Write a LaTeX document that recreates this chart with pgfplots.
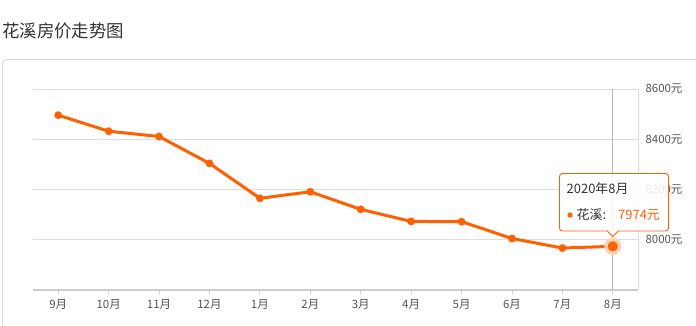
\documentclass[border=0pt]{standalone}
\usepackage{fontspec}
\setmainfont{Noto Sans CJK SC}
\usepackage{pgfplots}
\pgfplotsset{compat=1.18}
\definecolor{ora}{HTML}{FF6000}
\definecolor{halo}{HTML}{FDD3B8}
\definecolor{gridc}{HTML}{DDDDDD}
\definecolor{axl}{HTML}{CCCCCC}
\definecolor{lbl}{HTML}{555555}
\definecolor{ttl}{HTML}{333333}
\begin{document}
\begin{tikzpicture}
\begin{scope}[x=1bp,y=1bp]
\useasboundingbox (0,0) rectangle (696,325);
\fill[white] (0,0) rectangle (696,325);
\node[anchor=west,inner sep=0,text=ttl,font=\fontsize{17.5}{20}\selectfont] at (2,294) {花溪房价走势图};
\clip (0,0) rectangle (696,325);
\draw[gridc, line width=1bp, rounded corners=4bp] (2.5,-5) -- (2.5,265.5) -- (705,265.5);
\end{scope}
\begin{axis}[at={(33bp,35bp)}, anchor=south west, scale only axis, width=605bp, height=201bp,
 xmin=-0.5, xmax=11.5, ymin=7800, ymax=8600,
 axis x line*=bottom, axis y line*=right,
 x axis line style={axl, line width=1.6bp, -},
 y axis line style={gridc, line width=0.8bp, -},
 xtick={0,...,11}, xticklabels={9月,10月,11月,12月,1月,2月,3月,4月,5月,6月,7月,8月},
 ytick={8000,8200,8400,8600}, yticklabels={8000元,8200元,8400元,8600元},
 ymajorgrids, major grid style={gridc, line width=0.8bp},
 tick align=outside, major tick length=4bp,
 xtick style={axl, line width=0.8bp},
 ytick style={draw=none},
 tick label style={lbl, font=\fontsize{11.5}{13}\selectfont},
 xticklabel style={yshift=-2bp},
 yticklabel style={anchor=west},
 clip=false,
]
\addplot[color=black!27, line width=0.8bp] coordinates {(11,7800) (11,8600)};
\addplot[ora, line width=3bp, mark=*, mark size=3.8bp, mark options={fill=ora, draw=ora, line width=0.1bp}] coordinates {
(0,8496) (1,8432) (2,8411) (3,8304) (4,8165) (5,8191) (6,8121) (7,8073) (8,8072) (9,8005) (10,7967) (11,7974)};
\addplot[halo, only marks, mark=*, mark size=8.5bp, mark options={draw=halo, fill=halo, line width=0.1bp}] coordinates {(11,7974)};
\addplot[ora, only marks, mark=*, mark size=5bp, mark options={draw=ora, fill=ora, line width=0.1bp}] coordinates {(11,7974)};
\end{axis}
\begin{scope}[x=1bp,y=1bp]
\draw[ora, line width=0.9bp, fill=white, fill opacity=0.88]
  (612.7,88.5) -- (618.3,94) [rounded corners=3bp] -- (668.5,94) -- (668.5,151.5) -- (559.5,151.5) -- (559.5,94) [sharp corners] -- (607.3,94) -- cycle;
\node[anchor=west,inner sep=0,text=ttl,font=\fontsize{13}{15}\selectfont] at (566.5,136) {2020年8月};
\fill[ora] (570,110) circle (2.6bp);
\node[anchor=west,inner sep=0,text=ttl,font=\fontsize{13}{15}\selectfont] at (576.5,110) {花溪:};
\node[anchor=west,inner sep=0,text=ora,font=\fontsize{13}{15}\selectfont] at (618,110) {7974元};
\end{scope}
\end{tikzpicture}
\end{document}
